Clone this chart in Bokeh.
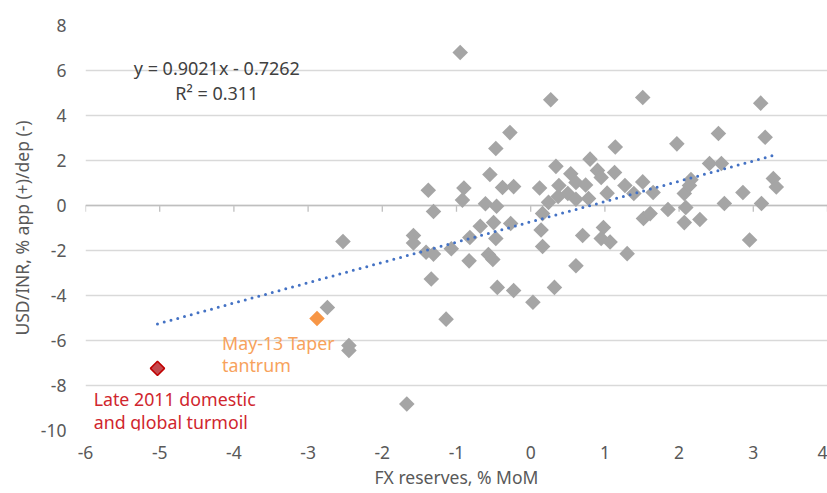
import numpy as np
from bokeh.plotting import figure
from bokeh.models import Range1d, FixedTicker, Label, Span
from bokeh.embed import file_html
from bokeh.resources import INLINE

# ---- data ----
fx_reserves = [-0.95, 0.27, 1.51, 3.10, -0.28, -0.47, 1.14, 1.97, 2.53, 3.16,
               0.34, 0.80, 0.90, 0.95, 1.13, 0.54, -0.55, -1.38, -0.90, -0.92,
               -1.31, -0.38, -0.23, -0.61, -0.46, 0.12, 0.38, 0.61, 0.74, 0.24,
               0.37, 0.50, 0.61, 0.78, 1.03, 1.27, 1.39, 1.51, 1.65, 1.85,
               2.07, 2.16, 2.14, 2.41, 2.57, 2.61, 2.86, 3.11, 3.27, 3.31,
               1.52, 1.61, 2.07, 2.09, 2.28, 2.95, 0.70, 0.98, 0.95, 1.07,
               0.14, 0.16, 0.16, -0.27, -0.47, -0.50, -0.68, -0.82, -1.07, -1.58,
               -1.58, -2.53, -1.41, -1.31, -0.83, -0.57, -0.51, -1.34, -2.74, -1.14,
               -2.45, -2.45, -1.67, 0.61, -0.45, -0.23, 0.32, 0.03, 1.30]
usd_inr = [6.80, 4.70, 4.80, 4.55, 3.24, 2.53, 2.60, 2.74, 3.20, 3.03,
           1.74, 2.06, 1.56, 1.25, 1.47, 1.41, 1.38, 0.68, 0.78, 0.24,
           -0.27, 0.80, 0.84, 0.08, -0.03, 0.78, 0.89, 1.02, 0.91, 0.14,
           0.40, 0.53, 0.28, 0.31, 0.55, 0.89, 0.53, 1.05, 0.58, -0.18,
           0.53, 1.15, 0.89, 1.87, 1.87, 0.09, 0.58, 0.09, 1.20, 0.82,
           -0.58, -0.36, -0.76, -0.09, -0.62, -1.53, -1.33, -0.98, -1.47, -1.62,
           -1.09, -0.36, -1.82, -0.80, -1.47, -0.76, -0.92, -1.42, -1.92, -1.33,
           -1.67, -1.60, -2.08, -2.16, -2.46, -2.18, -2.40, -3.27, -4.53, -5.05,
           -6.22, -6.44, -8.82, -2.68, -3.64, -3.78, -3.64, -4.30, -2.14]

taper_x = [-2.88]
taper_y = [-5.02]
late2011_x = [-5.03]
late2011_y = [-7.24]

x_ticks = [-6, -5, -4, -3, -2, -1, 0, 1, 2, 3, 4]
y_ticks = [-10, -8, -6, -4, -2, 0, 2, 4, 6, 8]

trend_slope = 0.9021
trend_intercept = -0.7262
equation_text = "y = 0.9021x - 0.7262"
r2_text = "R\u00b2 = 0.311"

# trendline spans the range of all observations
all_x = fx_reserves + taper_x + late2011_x
trend_x = [min(all_x), max(all_x)]
trend_y = [trend_slope * v + trend_intercept for v in trend_x]

FONT = "Noto Sans"
AXIS_GREY = "#595959"
AX_LINE = "#BFBFBF"
TICK_LEN = 0.28  # length of the tick marks on the y=0 axis, in y units
LABEL_SIZE = "17.5px"

p = figure(width=827, height=493,
           x_range=Range1d(-6, 4), y_range=Range1d(-10, 8),
           output_backend="svg", toolbar_location=None,
           min_border_left=85, min_border_right=0,
           min_border_top=25, min_border_bottom=63)
p.outline_line_color = None
p.background_fill_color = "white"

# grid
p.xgrid.visible = False
p.ygrid.ticker = FixedTicker(ticks=y_ticks)
p.ygrid.grid_line_color = "#D9D9D9"
p.ygrid.grid_line_width = 1.3

# left axis
p.yaxis.ticker = FixedTicker(ticks=y_ticks)
p.yaxis.major_label_overrides = {t: str(t) for t in y_ticks}
p.yaxis.axis_line_color = None
p.yaxis.major_tick_line_color = None
p.yaxis.minor_tick_line_color = None
p.yaxis.major_label_standoff = 13
p.yaxis.major_label_text_font = FONT
p.yaxis.major_label_text_font_size = LABEL_SIZE
p.yaxis.major_label_text_color = AXIS_GREY
p.yaxis.axis_label = "USD/INR, % app (+)/dep (-)"
p.yaxis.axis_label_text_font = FONT
p.yaxis.axis_label_text_font_size = LABEL_SIZE
p.yaxis.axis_label_text_font_style = "normal"
p.yaxis.axis_label_text_color = AXIS_GREY
p.yaxis.axis_label_standoff = 4

# bottom axis (labels only; the axis line is drawn at y = 0 below)
p.xaxis.ticker = FixedTicker(ticks=x_ticks)
p.xaxis.major_label_overrides = {t: str(t) for t in x_ticks}
p.xaxis.axis_line_color = None
p.xaxis.major_tick_line_color = None
p.xaxis.minor_tick_line_color = None
p.xaxis.major_label_standoff = 9
p.xaxis.major_label_text_font = FONT
p.xaxis.major_label_text_font_size = LABEL_SIZE
p.xaxis.major_label_text_color = AXIS_GREY
p.xaxis.axis_label = "FX reserves, % MoM"
p.xaxis.axis_label_text_font = FONT
p.xaxis.axis_label_text_font_size = LABEL_SIZE
p.xaxis.axis_label_text_font_style = "normal"
p.xaxis.axis_label_text_color = AXIS_GREY
p.xaxis.axis_label_standoff = 3

# horizontal axis line crossing at y = 0, with its tick marks
p.add_layout(Span(location=0, dimension="width", line_color=AX_LINE,
                  line_width=1.3, level="underlay"))
p.segment(x0=x_ticks, y0=[0] * len(x_ticks), x1=x_ticks,
          y1=[-TICK_LEN] * len(x_ticks), line_color=AX_LINE,
          line_width=1.3, level="underlay")

# points
p.scatter(fx_reserves, usd_inr, marker="square", size=11, angle=np.pi / 4,
          fill_color="#A5A5A5", line_color=None)
p.scatter(taper_x, taper_y, marker="square", size=11, angle=np.pi / 4,
          fill_color="#F79646", line_color=None)
p.scatter(late2011_x, late2011_y, marker="square", size=10, angle=np.pi / 4,
          fill_color="#C4494E", line_color="#C00000", line_width=1.5)

# trendline
p.line(trend_x, trend_y, line_color="#4472C4", line_width=3,
       line_dash="0 7", line_cap="round")

# text annotations
for txt, yy in [(equation_text, 6.09), (r2_text, 5.02)]:
    p.add_layout(Label(x=-4.23, y=yy, text=txt, text_align="center",
                       text_baseline="alphabetic", text_font=FONT,
                       text_font_size="18px", text_color="#404040"))

for txt, yy in [("May-13 Taper", -6.13), ("tantrum", -7.11)]:
    p.add_layout(Label(x=-4.16, y=yy, text=txt, text_align="left",
                       text_baseline="alphabetic", text_font=FONT,
                       text_font_size="17.8px", text_color="#F7A25C"))

for txt, yy in [("Late 2011 domestic", -8.62), ("and global turmoil", -9.60)]:
    p.add_layout(Label(x=-5.89, y=yy, text=txt, text_align="left",
                       text_baseline="alphabetic", text_font=FONT,
                       text_font_size="17.8px", text_color="#D0262E"))

open("out.html", "w").write(file_html(p, INLINE))
